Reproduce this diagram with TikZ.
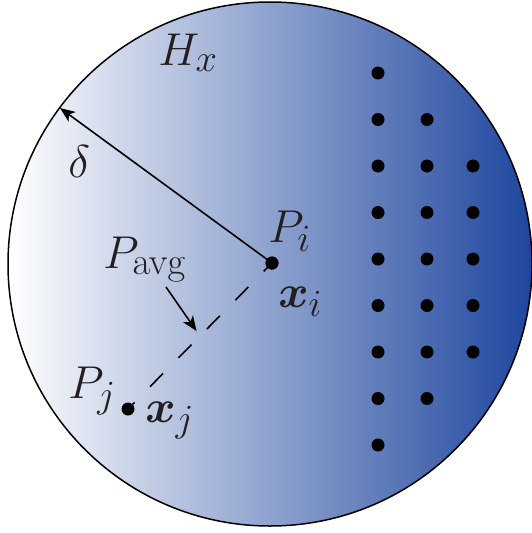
\documentclass[tikz,border=0pt]{standalone}
\usepackage{bm}
\usetikzlibrary{arrows.meta,calc}
\definecolor{deepblue}{RGB}{30,70,158}
\definecolor{midblue}{RGB}{138,150,206}
\definecolor{ink}{RGB}{35,31,32}
\begin{document}
\begin{tikzpicture}[x=1pt,y=-1pt,
  dot/.style={circle,fill=black,inner sep=0pt,minimum size=13pt},
  lbl/.style={anchor=base west,font=\Huge,scale=1.85,text=ink,inner sep=0pt},
  conn/.style={line width=1.6pt},
  tip/.style={-{Stealth[length=15pt,width=12pt,inset=4pt]}}]
\useasboundingbox (0,0) rectangle (531,533);
\coordinate (C) at (270,264);
\shade[left color=white,middle color=midblue,right color=deepblue] (C) circle (262);
\draw[line width=1.5pt] (C) circle (262);
% grid of dots
\foreach \k in {0,...,8} {\node[dot] (a\k) at (378,{73+46.5*\k}) {};}
\foreach \k in {1,...,7} {\node[dot] (b\k) at (427,{73+46.5*\k}) {};}
\foreach \k in {2,...,6} {\node[dot] (c\k) at (473,{73+46.5*\k}) {};}
% points
\node[dot] (Pi) at (272,263) {};
\node[dot] (Pj) at (128,409) {};
\coordinate (E) at (60,108);
\coordinate (M) at ($(Pi)!0.5!(Pj)$);
\coordinate (S) at (166,287);
\draw[conn,dash pattern=on 18.5pt off 22pt,dash phase=13.5pt] (Pi) -- (Pj);
\draw[conn,tip] (Pi.center) -- (E);
\draw[conn,tip,shorten >=6pt] (S) -- (M);
\node[dot] at (Pi) {};
% labels
\node[lbl] (Hx) at (158,65) {$H_x$};
\node[lbl] (d) at (68,177) {$\delta$};
\node[lbl] (LPi) at (268,242) {$P_i$};
\node[lbl] (Lxi) at (278,307) {$\bm{x}_i$};
\node[lbl] (Lavg) at (103,268) {$P_{\mathrm{avg}}$};
\node[lbl] (LPj) at (68,398) {$P_j$};
\node[lbl] (Lxj) at (145,422) {$\bm{x}_j$};
\end{tikzpicture}
\end{document}
